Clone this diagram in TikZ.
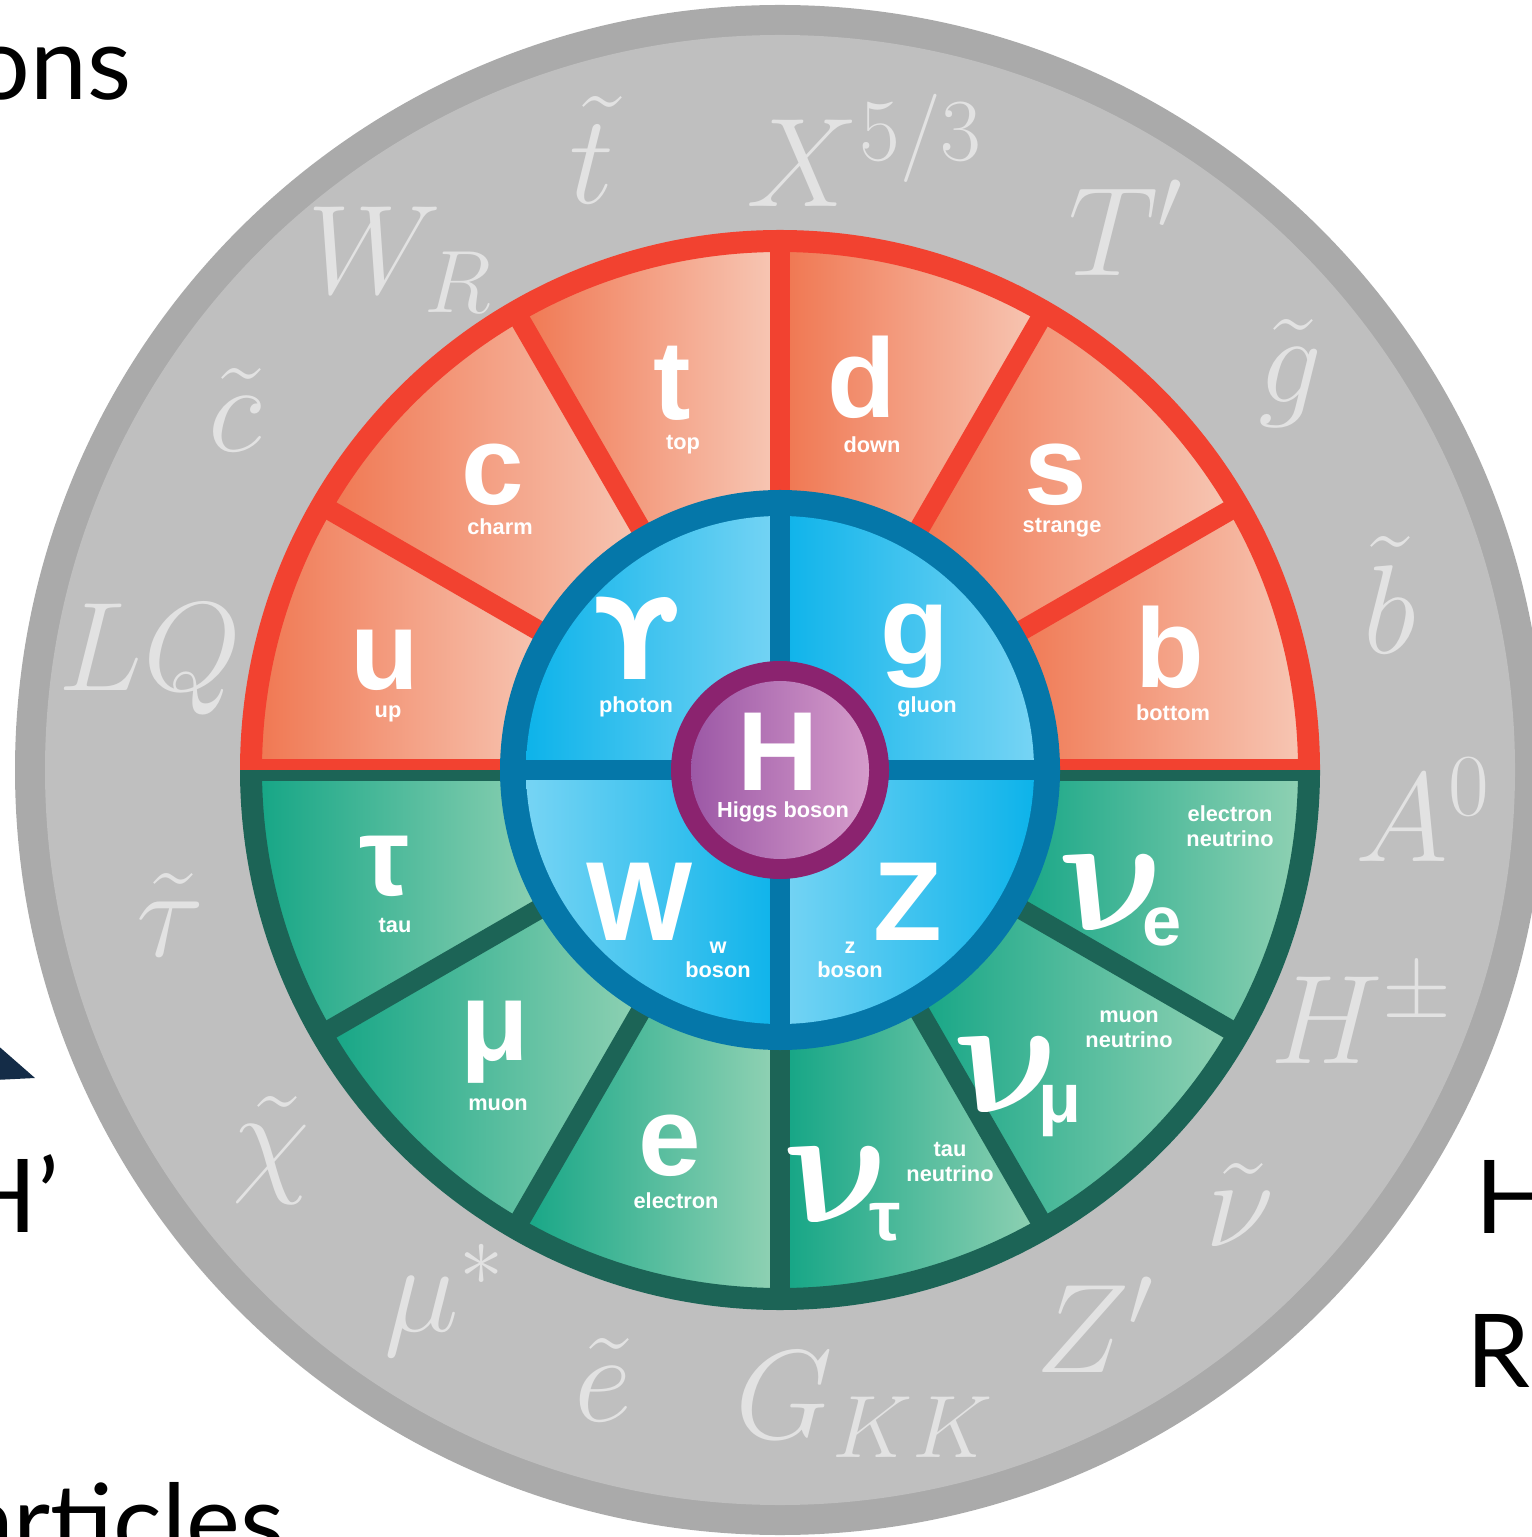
\RequirePackage{fix-cm}
\documentclass[tikz,border=0pt]{standalone}
\usepackage{amsmath}
\usepackage{fontspec}
\usepackage{tikz}
\newfontfamily\wheelfont{Liberation Sans}
\newfontfamily\upsfont{DejaVu Sans}
\newfontfamily\slidefont{Lato}
\definecolor{rimgrey}{RGB}{170,170,170}
\definecolor{discgrey}{RGB}{191,191,191}
\definecolor{ghost}{RGB}{226,226,226}
\definecolor{quarkline}{RGB}{242,66,48}
\definecolor{quarkdark}{RGB}{240,118,80}
\definecolor{quarklight}{RGB}{247,200,182}
\definecolor{leptonline}{RGB}{28,100,86}
\definecolor{leptondark}{RGB}{19,165,133}
\definecolor{leptonlight}{RGB}{146,210,180}
\definecolor{bosonring}{RGB}{5,119,169}
\definecolor{bosondark}{RGB}{13,179,234}
\definecolor{bosonlight}{RGB}{118,212,244}
\definecolor{higgsring}{RGB}{139,35,111}
\definecolor{higgsdark}{RGB}{156,88,166}
\definecolor{higgslight}{RGB}{213,156,203}
\definecolor{navy}{RGB}{20,44,71}

\begin{document}
\begin{tikzpicture}[
  big/.style={text=white, font=\wheelfont\bfseries\fontsize{32}{32}\selectfont, anchor=base, inner sep=0pt},
  nu/.style={text=white, font=\fontsize{48}{48}\selectfont, anchor=base, inner sep=0pt, xslant=-0.35, transform shape},
  sub/.style={text=white, font=\wheelfont\bfseries\fontsize{20}{20}\selectfont, anchor=base, inner sep=0pt},
  tag/.style={text=white, font=\wheelfont\bfseries\fontsize{6.2}{7}\selectfont, align=center, inner sep=0pt},
  exotic/.style={text=ghost, font=\fontsize{36}{36}\selectfont, inner sep=0pt},
  slide/.style={text=black, font=\slidefont\fontsize{29}{29}\selectfont, inner sep=0pt}]
  \useasboundingbox (0,0) rectangle (15.31,-15.37);

  % Grey disc of new particles
  \fill[rimgrey] (7.80,-7.70) circle (7.65);
  \fill[discgrey] (7.80,-7.70) circle (7.35);

  \begin{scope}[shift={(7.80,-7.70)}]
    % Quarks
    \foreach \a in {0,30,...,150} {
      \pgfmathsetmacro\b{\a+30}
      \shade[left color=quarkdark, right color=quarklight]
        (\a:2.6) arc[start angle=\a, end angle=\b, radius=2.6]
        -- (\b:5.29) arc[start angle=\b, end angle=\a, radius=5.29] -- cycle;
    }
    % Leptons
    \foreach \a in {180,210,...,330} {
      \pgfmathsetmacro\b{\a+30}
      \shade[left color=leptondark, right color=leptonlight]
        (\a:2.6) arc[start angle=\a, end angle=\b, radius=2.6]
        -- (\b:5.29) arc[start angle=\b, end angle=\a, radius=5.29] -- cycle;
    }
    % Borders
    \draw[quarkline, line width=0.22cm] (0:5.29) arc[start angle=0, end angle=180, radius=5.29];
    \foreach \a in {30,60,...,150}
      \draw[quarkline, line width=0.2cm] (\a:2.6) -- (\a:5.29);
    \draw[leptonline, line width=0.22cm] (180:5.29) arc[start angle=180, end angle=360, radius=5.29];
    \foreach \a in {210,240,...,330}
      \draw[leptonline, line width=0.2cm] (\a:2.6) -- (\a:5.29);
    \fill[quarkline] (-5.40,0) rectangle (5.40,0.11);
    \fill[leptonline] (-5.40,-0.11) rectangle (5.40,0);

    % Gauge bosons
    \fill[bosonring] (0,0) circle (2.80);
    \shade[left color=bosondark, right color=bosonlight]
      (0,0) -- (90:2.54) arc[start angle=90, end angle=180, radius=2.54] -- cycle;
    \shade[left color=bosondark, right color=bosonlight]
      (0,0) -- (0:2.54) arc[start angle=0, end angle=90, radius=2.54] -- cycle;
    \shade[left color=bosonlight, right color=bosondark]
      (0,0) -- (180:2.54) arc[start angle=180, end angle=270, radius=2.54] -- cycle;
    \shade[left color=bosonlight, right color=bosondark]
      (0,0) -- (270:2.54) arc[start angle=270, end angle=360, radius=2.54] -- cycle;
    \draw[bosonring, line width=0.2cm] (-2.6,0) -- (2.6,0) (0,-2.6) -- (0,2.6);

    % Higgs
    \fill[higgsring] (0,0) circle (1.09);
    \shade[left color=higgsdark, right color=higgslight] (0,0) circle (0.89);
  \end{scope}

  % Particle symbols
  \node[big] (top) at (6.72,-4.20) {t};
  \node[big] (down) at (8.62,-4.18) {d};
  \node[big] (charm) at (4.93,-5.05) {c};
  \node[big] (strange) at (10.56,-5.05) {s};
  \node[big] (up) at (3.85,-6.90) {u};
  \node[big] (bottom) at (11.70,-6.88) {b};
  \node[big, font=\upsfont\bfseries\fontsize{32}{32}\selectfont] (photon) at (6.36,-6.80) {ϒ};
  \node[big] (gluon) at (9.15,-6.65) {g};
  \node[big] (higgs) at (7.78,-7.90) {H};
  \node[big] (wboson) at (6.40,-9.40) {W};
  \node[big] (zboson) at (9.08,-9.40) {Z};
  \node[big] (tau) at (3.85,-8.95) {τ};
  \node[big] (muon) at (4.95,-10.60) {μ};
  \node[big] (electron) at (6.70,-11.75) {e};
  \node[nu] (nutau) at (8.56,-12.22) {$\boldsymbol{\nu}$};
  \node[sub] (nutausub) at (8.85,-12.40) {τ};
  \node[nu] (numu) at (10.26,-11.12) {$\boldsymbol{\nu}$};
  \node[sub] (numusub) at (10.60,-11.22) {μ};
  \node[nu] (nue) at (11.31,-9.30) {$\boldsymbol{\nu}$};
  \node[sub] (nuesub) at (11.62,-9.45) {e};

  % Particle names
  \node[tag] (toptag) at (6.83,-4.45) {top};
  \node[tag] (downtag) at (8.72,-4.45) {down};
  \node[tag] (charmtag) at (5.00,-5.27) {charm};
  \node[tag] (strangetag) at (10.62,-5.28) {strange};
  \node[tag] (uptag) at (3.88,-7.14) {up};
  \node[tag] (bottomtag) at (11.73,-7.13) {bottom};
  \node[tag] (photontag) at (6.36,-7.07) {photon};
  \node[tag] (gluontag) at (9.27,-7.07) {gluon};
  \node[tag] (higgstag) at (7.83,-8.12) {Higgs boson};
  \node[tag] (wtag) at (7.18,-9.60) {w\\boson};
  \node[tag] (ztag) at (8.50,-9.60) {z\\boson};
  \node[tag] (tautag) at (3.95,-9.25) {tau};
  \node[tag] (muontag) at (4.98,-11.05) {muon};
  \node[tag] (electrontag) at (6.76,-12.01) {electron};
  \node[tag] (nutautag) at (9.50,-11.62) {tau\\neutrino};
  \node[tag] (numutag) at (11.29,-10.29) {muon\\neutrino};
  \node[tag] (nuetag) at (12.30,-8.26) {electron\\neutrino};

  % New particles
  \node[exotic] (stop) at (5.92,-1.50) {$\tilde t$};
  \node[exotic] (xquark) at (8.65,-1.50) {$X^{5/3}$};
  \node[exotic] (tprime) at (11.26,-2.28) {$T'$};
  \node[exotic] (gluino) at (12.90,-3.73) {$\tilde g$};
  \node[exotic] (sbottom) at (13.90,-5.95) {$\tilde b$};
  \node[exotic] (azero) at (14.23,-8.10) {$A^0$};
  \node[exotic] (hcharged) at (13.62,-10.15) {$H^\pm$};
  \node[exotic] (snu) at (12.40,-12.05) {$\tilde\nu$};
  \node[exotic] (zprime) at (10.95,-13.25) {$Z'$};
  \node[exotic] (graviton) at (8.65,-14.05) {$G_{KK}$};
  \node[exotic] (selectron) at (6.03,-13.80) {$\tilde e$};
  \node[exotic] (excmuon) at (4.45,-13.00) {$\mu^*$};
  \node[exotic] (chargino) at (2.71,-11.50) {$\tilde\chi$};
  \node[exotic] (stau) at (1.70,-9.15) {$\tilde\tau$};
  \node[exotic] (leptoquark) at (1.50,-6.60) {$LQ$};
  \node[exotic] (scharm) at (2.35,-4.10) {$\tilde c$};
  \node[exotic] (wright) at (4.00,-2.60) {$W_R$};

  % Slide text around the disc
  \node[slide, anchor=base east] (ons) at (1.32,-1.00) {ons};
  \node[slide, anchor=base east] (hprime) at (0.60,-12.32) {H’};
  \node[slide, anchor=base west] (hright) at (14.75,-12.33) {H};
  \node[slide, anchor=base west] (rright) at (14.66,-13.87) {R};
  \node[slide, anchor=base east] (articles) at (2.85,-15.57) {articles};
  \fill[navy] (-0.05,-10.43) -- (0.35,-10.78) -- (-0.05,-10.80) -- cycle;
\end{tikzpicture}
\end{document}
